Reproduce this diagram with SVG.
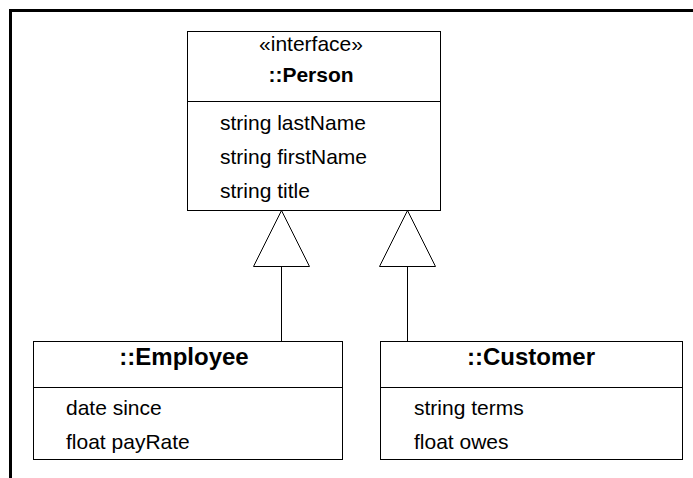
<svg xmlns="http://www.w3.org/2000/svg" width="693" height="478" viewBox="0 0 693 478">
<style>
.box{fill:#fff;stroke:#000;stroke-width:1}
.t{font-family:"Liberation Sans",Arial,sans-serif;font-size:21px;fill:#000}
.b{font-weight:bold;text-anchor:middle;font-size:24px}
.c{text-anchor:middle}
.conn{fill:none;stroke:#000;stroke-width:1}
.tri{fill:#fff;stroke:#000;stroke-width:1}
</style>
<rect width="693" height="478" fill="#fff"/>
<path d="M10.5,478 V10.5 H693" fill="none" stroke="#000" stroke-width="3"/>
<g id="connectors">
<line class="conn" x1="281.5" y1="266" x2="281.5" y2="341"/>
<polygon class="tri" points="281.5,210.5 253.5,266.5 309.5,266.5"/>
<line class="conn" x1="407.5" y1="266" x2="407.5" y2="341"/>
<polygon class="tri" points="407.5,210.5 379.5,266.5 435.5,266.5"/>
</g>
<g id="person">
<rect class="box" x="187.5" y="31.5" width="253" height="179"/>
<line class="conn" x1="187.5" y1="101.5" x2="440.5" y2="101.5"/>
<text class="t c" x="311" y="51">«interface»</text>
<text class="t b" x="311" y="82" style="font-size:21px">::Person</text>
<text class="t" x="220" y="130">string lastName</text>
<text class="t" x="220" y="164">string firstName</text>
<text class="t" x="220" y="198">string title</text>
</g>
<g id="employee">
<rect class="box" x="33.5" y="341.5" width="309" height="118"/>
<line class="conn" x1="33.5" y1="387.5" x2="342.5" y2="387.5"/>
<text class="t b" x="184" y="365">::Employee</text>
<text class="t" x="66" y="415">date since</text>
<text class="t" x="66" y="449">float payRate</text>
</g>
<g id="customer">
<rect class="box" x="380.5" y="341.5" width="302" height="118"/>
<line class="conn" x1="380.5" y1="387.5" x2="682.5" y2="387.5"/>
<text class="t b" x="531" y="365">::Customer</text>
<text class="t" x="414" y="415">string terms</text>
<text class="t" x="414" y="449">float owes</text>
</g>
</svg>
